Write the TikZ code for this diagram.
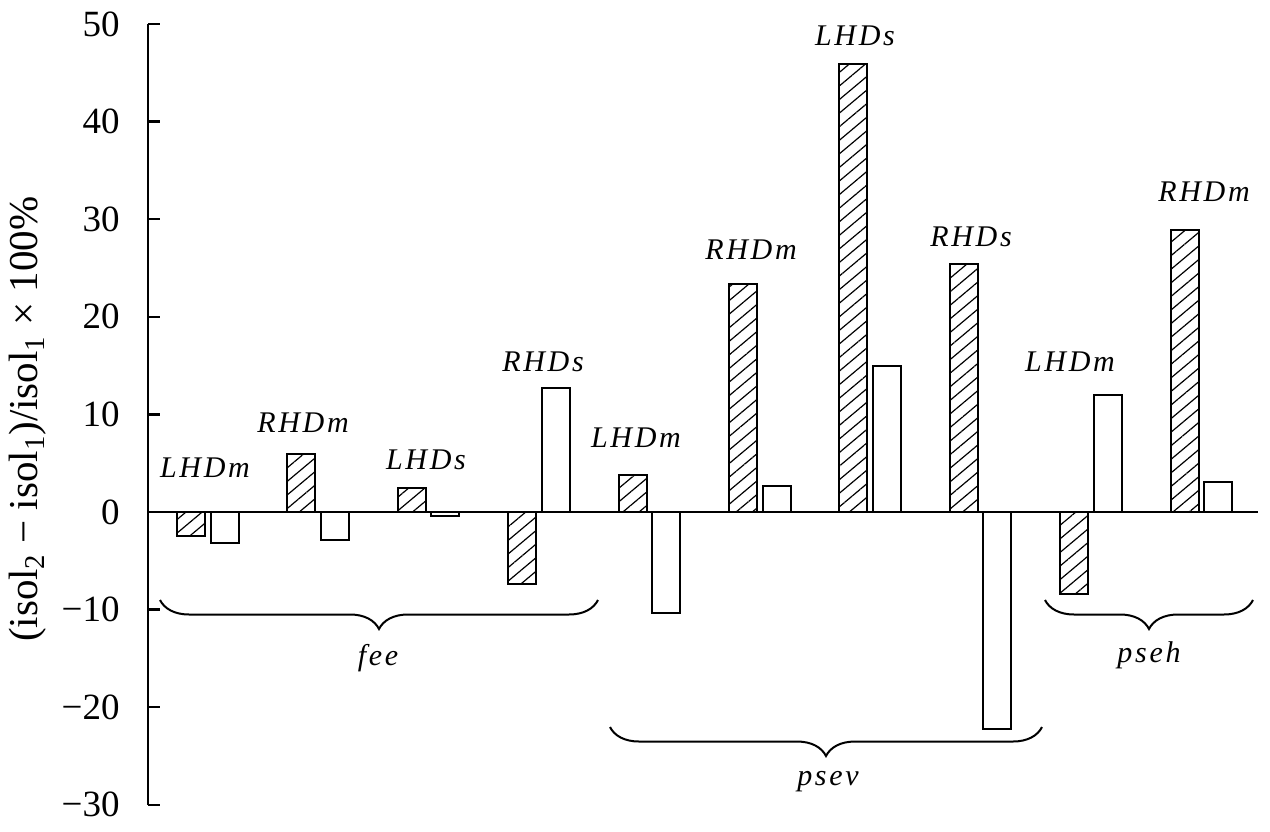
\documentclass[tikz,border=0pt]{standalone}
\usepackage{fontspec}
\setmainfont{Liberation Serif}
\newfontfamily\barfont[LetterSpace=9]{Liberation Serif}
\usetikzlibrary{
    decorations.pathreplacing,
    patterns.meta,
    positioning
}

\begin{document}
\begin{tikzpicture}[x=0.5pt, y=4.88pt,
    hatched/.style={draw, line width=1pt, pattern={Lines[angle=40, distance=5.2pt, line width=0.6pt]}},
    plain/.style={draw, line width=1pt, fill=white},
    lbl/.style={font=\fontsize{15}{18}\selectfont\barfont\itshape, anchor=base, inner sep=0pt},
    tick/.style={font=\fontsize{18.5}{22}\selectfont, anchor=east, inner sep=0pt},
    grp/.style={decorate, decoration={brace, mirror, amplitude=14.5pt}, line width=1pt}]
    \useasboundingbox (-148, -32.684) rectangle (1122, 52.459);
    \foreach \i/\a/\b in {0/-2.5/-3.2, 1/5.9/-2.85, 2/2.45/-0.4, 3/-7.35/12.75,
                          4/3.75/-10.3, 5/23.4/2.65, 6/45.95/15.0, 7/25.45/-22.2,
                          8/-8.35/11.95, 9/28.9/3.1}
    {
        \pgfmathsetmacro\s{29+110.4*\i}
        \draw[hatched] (\s, 0) rectangle ++(28, \a);
        \draw[plain] (\s+33.5, 0) rectangle ++(28, \b);
    }
    \draw[line width=1.2pt] (0, 0) -- (1110, 0);
    \draw[line width=1.2pt] (0, -30) -- (0, 50);
    \foreach \v/\t in {50/50, 40/40, 30/30, 20/20, 10/10, 0/0, -10/−10, -20/−20, -30/−30}
    {
        \draw[line width=1.2pt] (0, \v) -- (12, \v);
        \node[tick] (t\v) at (-28, \v) {\t};
    }
    \node[rotate=90, font=\fontsize{20.5}{24}\selectfont] (ylab) at (-120, 9.5)
        {(isol\textsubscript{2} − isol\textsubscript{1})/isol\textsubscript{1} × 100\%};
    \node[lbl] (feelhdm) at (57, 3.586) {LHDm};
    \node[lbl] (feerhdm) at (155, 8.197) {RHDm};
    \node[lbl] (feelhds) at (278, 4.406) {LHDs};
    \node[lbl] (feerhds) at (395, 14.447) {RHDs};
    \node[lbl] (psevlhdm) at (488, 6.660) {LHDm};
    \node[lbl] (psevrhdm) at (603, 25.922) {RHDm};
    \node[lbl] (psevlhds) at (707, 47.848) {LHDs};
    \node[lbl] (psevrhds) at (823, 27.254) {RHDs};
    \node[lbl] (psehlhdm) at (922, 14.447) {LHDm};
    \node[lbl] (psehrhdm) at (1056, 31.865) {RHDm};
    \coordinate (feeL) at (12, -9.016);
    \coordinate (feeR) at (450, -9.016);
    \coordinate (psevL) at (462, -22.03);
    \coordinate (psevR) at (894, -22.03);
    \coordinate (psehL) at (897, -9.016);
    \coordinate (psehR) at (1105, -9.016);
    \draw[grp] (feeL) -- (feeR);
    \draw[grp] (psevL) -- (psevR);
    \draw[grp] (psehL) -- (psehR);
    \node[lbl] (fee) at (230, -15.676) {fee};
    \node[lbl] (psev) at (680, -28.07) {psev};
    \node[lbl] (pseh) at (1001, -15.37) {pseh};
\end{tikzpicture}
\end{document}
